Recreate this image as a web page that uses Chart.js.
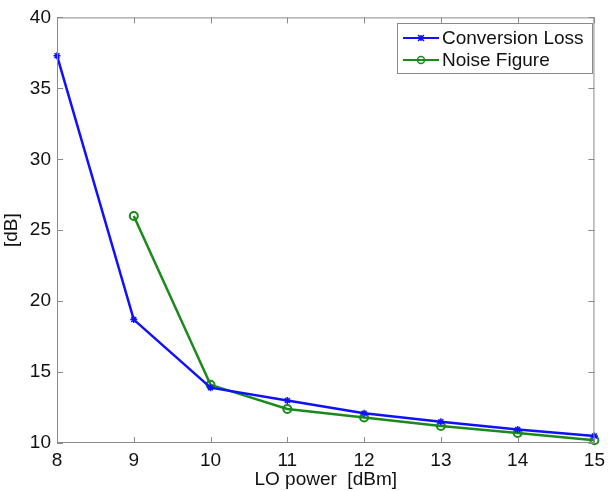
<!DOCTYPE html>
<html>
<head>
<meta charset="utf-8">
<script src="https://cdn.jsdelivr.net/npm/chart.js@4.4.0/dist/chart.umd.min.js"></script>
<style>
  html, body { margin: 0; padding: 0; background: #fff; }
  #wrap { width: 611px; height: 491px; }
</style>
</head>
<body>
<div id="wrap"><canvas id="chart" width="611" height="491"></canvas></div>
<script>
// values
const loPower = [8, 9, 10, 11, 12, 13, 14, 15];
const conversionLoss = [37.3, 18.7, 13.9, 13.0, 12.1, 11.5, 10.95, 10.5];
const nfPower = [9, 10, 11, 12, 13, 14, 15];
const noiseFigure = [26.0, 14.1, 12.4, 11.8, 11.2, 10.7, 10.2];

const FONT = 'Liberation Sans, Arial, Helvetica, sans-serif';

// matlab-like frame: full box, ticks pointing inward on all four sides
const boxPlugin = {
  id: 'box',
  afterDraw(chart) {
    const { ctx, chartArea: a, scales } = chart;
    ctx.save();
    ctx.strokeStyle = '#8a8a8a';
    ctx.lineWidth = 1;
    ctx.strokeRect(a.left + 0.5, a.top + 0.5, a.right - a.left - 1, a.bottom - a.top - 1);
    const len = 6;
    ctx.beginPath();
    scales.x.ticks.forEach(t => {
      const px = Math.round(scales.x.getPixelForValue(t.value)) + 0.5;
      ctx.moveTo(px, a.bottom); ctx.lineTo(px, a.bottom - len);
      ctx.moveTo(px, a.top); ctx.lineTo(px, a.top + len);
    });
    scales.y.ticks.forEach(t => {
      const py = Math.round(scales.y.getPixelForValue(t.value)) + 0.5;
      ctx.moveTo(a.left, py); ctx.lineTo(a.left + len, py);
      ctx.moveTo(a.right, py); ctx.lineTo(a.right - len, py);
    });
    ctx.stroke();

    // legend box in the upper right corner
    const lx = 397, ly = 23, lw = 195, lh = 50;
    ctx.fillStyle = '#fff';
    ctx.fillRect(lx, ly, lw, lh);
    ctx.strokeStyle = '#8a8a8a';
    ctx.strokeRect(lx + 0.5, ly + 0.5, lw, lh);
    ctx.font = '19px ' + FONT;
    ctx.textBaseline = 'middle';
    chart.data.datasets.forEach((ds, i) => {
      const y = ly + 15 + i * 22;
      ctx.strokeStyle = ds.borderColor;
      ctx.lineWidth = 2;
      ctx.beginPath();
      ctx.moveTo(lx + 6, y); ctx.lineTo(lx + 42, y);
      ctx.stroke();
      ctx.lineWidth = 1.5;
      if (i === 0) {
        ctx.beginPath();
        ctx.moveTo(lx + 21, y - 3); ctx.lineTo(lx + 27, y + 3);
        ctx.moveTo(lx + 27, y - 3); ctx.lineTo(lx + 21, y + 3);
        ctx.moveTo(lx + 24, y - 3); ctx.lineTo(lx + 24, y + 3);
        ctx.stroke();
      } else {
        ctx.beginPath();
        ctx.arc(lx + 24, y, 3.5, 0, Math.PI * 2);
        ctx.stroke();
      }
      ctx.fillStyle = '#111';
      ctx.fillText(ds.label, lx + 45, y + 1);
    });
    ctx.restore();
  }
};

new Chart(document.getElementById('chart'), {
  type: 'line',
  data: {
    datasets: [{
      label: 'Conversion Loss',
      data: loPower.map((x, i) => ({ x: x, y: conversionLoss[i] })),
      borderColor: '#1010ff',
      backgroundColor: '#1010ff',
      borderWidth: 2.5,
      pointStyle: 'star',
      pointRadius: 3.5,
      pointBorderWidth: 1.5,
      tension: 0,
      clip: false
    }, {
      label: 'Noise Figure',
      data: nfPower.map((x, i) => ({ x: x, y: noiseFigure[i] })),
      borderColor: '#1a8a1a',
      backgroundColor: 'rgba(0,0,0,0)',
      borderWidth: 2.5,
      pointStyle: 'circle',
      pointRadius: 4,
      pointBorderWidth: 2,
      tension: 0,
      clip: false
    }]
  },
  options: {
    responsive: false,
    animation: false,
    layout: { padding: { top: 17, right: 13, left: 0, bottom: 0 } },
    plugins: {
      legend: { display: false },
      tooltip: { enabled: false }
    },
    scales: {
      x: {
        type: 'linear',
        min: 8, max: 15,
        afterFit(s) { s.height = 48; },
        grid: { display: false, drawTicks: false },
        border: { display: false },
        ticks: { stepSize: 1, padding: 6, color: '#111', font: { family: FONT, size: 19 }, maxRotation: 0 },
        title: { display: true, text: 'LO power  [dBm]', color: '#111', font: { family: FONT, size: 19 }, padding: { top: 0, bottom: 0 } }
      },
      y: {
        type: 'linear',
        min: 10, max: 40,
        afterFit(s) { s.width = 57; },
        grid: { display: false, drawTicks: false },
        border: { display: false },
        ticks: { stepSize: 5, padding: 6, color: '#111', font: { family: FONT, size: 19 } },
        title: { display: true, text: '[dB]', color: '#111', font: { family: FONT, size: 19 }, padding: { top: 0, bottom: 2 } }
      }
    }
  },
  plugins: [boxPlugin]
});
</script>
</body>
</html>
